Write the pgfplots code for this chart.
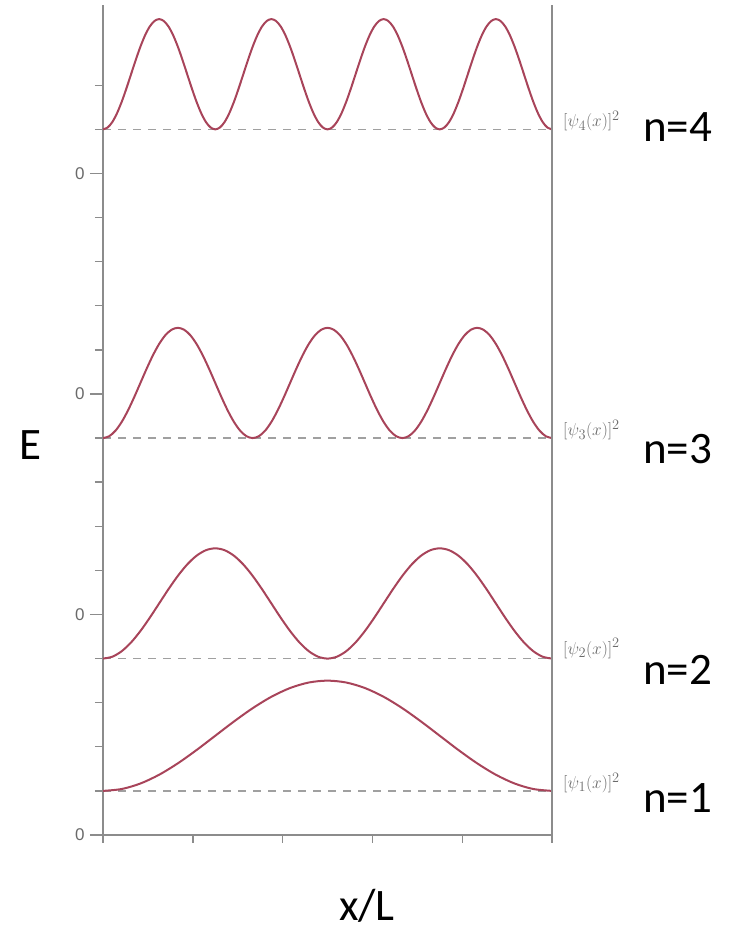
\documentclass[border=0pt]{standalone}
\usepackage{pgfplots}
\pgfplotsset{compat=1.18}
\usepackage{fontspec}
\setmainfont{Carlito}
\newfontfamily\arial{Liberation Sans}
\definecolor{curve}{HTML}{A8445A}
\definecolor{axisgray}{HTML}{8C8C8C}
\definecolor{dashgray}{HTML}{A0A0A0}
\definecolor{labgray}{HTML}{6A6A6A}

\begin{document}
\begin{tikzpicture}
\useasboundingbox (0,0) rectangle (728pt,931pt);
\begin{axis}[
  at={(103pt,96pt)}, anchor=south west,
  scale only axis, width=449pt, height=830pt,
  xmin=0, xmax=144, ymin=0, ymax=18.82,
  axis x line=bottom, axis y line=left,
  axis line style={-, axisgray, line width=1.7pt},
  xtick={0,28.8,57.6,86.4,115.2,144}, xticklabels={},
  ytick={1,2,3,4,6,7,8,9,11,12,13,14,16,17}, yticklabels={},
  extra y ticks={0,5,10,15}, extra y tick labels={0,0,0,0},
  extra y tick style={major tick length=13pt},
  tick align=outside, major tick length=8pt,
  every tick/.style={axisgray, line width=1.4pt},
  yticklabel style={font=\arial\fontsize{17}{17}\selectfont, text=labgray, xshift=-2pt},
  clip=false,
]
% baselines
\addplot[dashgray, line width=1.4pt, dash pattern=on 8pt off 7pt] coordinates {(0,1) (144,1)};
\addplot[dashgray, line width=1.4pt, dash pattern=on 8pt off 7pt] coordinates {(0,4) (144,4)};
\addplot[dashgray, line width=1.4pt, dash pattern=on 8pt off 7pt] coordinates {(0,9) (144,9)};
\addplot[dashgray, line width=1.4pt, dash pattern=on 8pt off 7pt] coordinates {(0,16) (144,16)};
% n = 1
\addplot[curve, line width=2pt, smooth] coordinates {
  (0,1) (6,1.0426) (12,1.1675) (18,1.3661) (24,1.625) (30,1.9265) (36,2.25)
  (42,2.5735) (48,2.875) (54,3.1339) (60,3.3325) (66,3.4574) (72,3.5)
  (78,3.4574) (84,3.3325) (90,3.1339) (96,2.875) (102,2.5735) (108,2.25)
  (114,1.9265) (120,1.625) (126,1.3661) (132,1.1675) (138,1.0426) (144,1)};
% n = 2
\addplot[curve, line width=2pt, smooth] coordinates {
  (0,4) (3,4.0426) (6,4.1675) (9,4.3661) (12,4.625) (15,4.9265) (18,5.25)
  (21,5.5735) (24,5.875) (27,6.1339) (30,6.3325) (33,6.4574) (36,6.5)
  (39,6.4574) (42,6.3325) (45,6.1339) (48,5.875) (51,5.5735) (54,5.25)
  (57,4.9265) (60,4.625) (63,4.3661) (66,4.1675) (69,4.0426) (72,4)
  (75,4.0426) (78,4.1675) (81,4.3661) (84,4.625) (87,4.9265) (90,5.25)
  (93,5.5735) (96,5.875) (99,6.1339) (102,6.3325) (105,6.4574) (108,6.5)
  (111,6.4574) (114,6.3325) (117,6.1339) (120,5.875) (123,5.5735) (126,5.25)
  (129,4.9265) (132,4.625) (135,4.3661) (138,4.1675) (141,4.0426) (144,4)};
% n = 3
\addplot[curve, line width=2pt, smooth] coordinates {
  (0,9) (2,9.0426) (4,9.1675) (6,9.3661) (8,9.625) (10,9.9265) (12,10.25)
  (14,10.5735) (16,10.875) (18,11.1339) (20,11.3325) (22,11.4574) (24,11.5)
  (26,11.4574) (28,11.3325) (30,11.1339) (32,10.875) (34,10.5735) (36,10.25)
  (38,9.9265) (40,9.625) (42,9.3661) (44,9.1675) (46,9.0426) (48,9)
  (50,9.0426) (52,9.1675) (54,9.3661) (56,9.625) (58,9.9265) (60,10.25)
  (62,10.5735) (64,10.875) (66,11.1339) (68,11.3325) (70,11.4574) (72,11.5)
  (74,11.4574) (76,11.3325) (78,11.1339) (80,10.875) (82,10.5735) (84,10.25)
  (86,9.9265) (88,9.625) (90,9.3661) (92,9.1675) (94,9.0426) (96,9)
  (98,9.0426) (100,9.1675) (102,9.3661) (104,9.625) (106,9.9265) (108,10.25)
  (110,10.5735) (112,10.875) (114,11.1339) (116,11.3325) (118,11.4574) (120,11.5)
  (122,11.4574) (124,11.3325) (126,11.1339) (128,10.875) (130,10.5735) (132,10.25)
  (134,9.9265) (136,9.625) (138,9.3661) (140,9.1675) (142,9.0426) (144,9)};
% n = 4
\addplot[curve, line width=2pt, smooth] coordinates {
  (0,16) (1.5,16.0426) (3,16.1675) (4.5,16.3661) (6,16.625) (7.5,16.9265) (9,17.25)
  (10.5,17.5735) (12,17.875) (13.5,18.1339) (15,18.3325) (16.5,18.4574) (18,18.5)
  (19.5,18.4574) (21,18.3325) (22.5,18.1339) (24,17.875) (25.5,17.5735) (27,17.25)
  (28.5,16.9265) (30,16.625) (31.5,16.3661) (33,16.1675) (34.5,16.0426) (36,16)
  (37.5,16.0426) (39,16.1675) (40.5,16.3661) (42,16.625) (43.5,16.9265) (45,17.25)
  (46.5,17.5735) (48,17.875) (49.5,18.1339) (51,18.3325) (52.5,18.4574) (54,18.5)
  (55.5,18.4574) (57,18.3325) (58.5,18.1339) (60,17.875) (61.5,17.5735) (63,17.25)
  (64.5,16.9265) (66,16.625) (67.5,16.3661) (69,16.1675) (70.5,16.0426) (72,16)
  (73.5,16.0426) (75,16.1675) (76.5,16.3661) (78,16.625) (79.5,16.9265) (81,17.25)
  (82.5,17.5735) (84,17.875) (85.5,18.1339) (87,18.3325) (88.5,18.4574) (90,18.5)
  (91.5,18.4574) (93,18.3325) (94.5,18.1339) (96,17.875) (97.5,17.5735) (99,17.25)
  (100.5,16.9265) (102,16.625) (103.5,16.3661) (105,16.1675) (106.5,16.0426) (108,16)
  (109.5,16.0426) (111,16.1675) (112.5,16.3661) (114,16.625) (115.5,16.9265) (117,17.25)
  (118.5,17.5735) (120,17.875) (121.5,18.1339) (123,18.3325) (124.5,18.4574) (126,18.5)
  (127.5,18.4574) (129,18.3325) (130.5,18.1339) (132,17.875) (133.5,17.5735) (135,17.25)
  (136.5,16.9265) (138,16.625) (139.5,16.3661) (141,16.1675) (142.5,16.0426) (144,16)};
\draw[axisgray, line width=1.7pt] (axis cs:144,0) -- (axis cs:144,18.82);
\node[anchor=west, inner sep=0pt, text=labgray, font=\fontsize{19}{19}\selectfont,
  xshift=11pt, yshift=8pt] at (axis cs:144,1) {$[\psi_1(x)]^2$};
\node[anchor=west, inner sep=0pt, text=labgray, font=\fontsize{19}{19}\selectfont,
  xshift=11pt, yshift=10pt] at (axis cs:144,4) {$[\psi_2(x)]^2$};
\node[anchor=west, inner sep=0pt, text=labgray, font=\fontsize{19}{19}\selectfont,
  xshift=11pt, yshift=8pt] at (axis cs:144,9) {$[\psi_3(x)]^2$};
\node[anchor=west, inner sep=0pt, text=labgray, font=\fontsize{19}{19}\selectfont,
  xshift=11pt, yshift=8pt] at (axis cs:144,16) {$[\psi_4(x)]^2$};
\end{axis}
\begin{scope}[every node/.style={font=\fontsize{45}{45}\selectfont, inner sep=0pt}]
\node[anchor=west] at (643pt,804pt) {n=4};
\node[anchor=west] at (643pt,482pt) {n=3};
\node[anchor=west] at (643pt,261pt) {n=2};
\node[anchor=west] at (643pt,133pt) {n=1};
\node at (30pt,486pt) {E};
\node[anchor=base] at (367pt,10pt) {x/L};
\end{scope}
\end{tikzpicture}
\end{document}
